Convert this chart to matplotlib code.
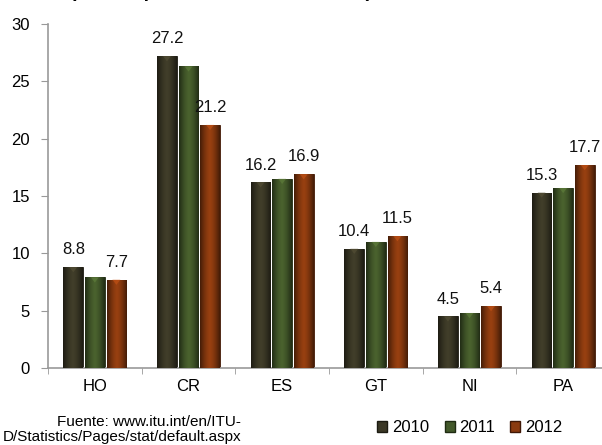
import numpy as np
import matplotlib
matplotlib.use("Agg")
import matplotlib.pyplot as plt
from matplotlib.patches import Patch

plt.rcParams['font.family'] = ['Liberation Sans', 'DejaVu Sans']

# data
paises = ['HO', 'CR', 'ES', 'GT', 'NI', 'PA']
anios = ['2010', '2011', '2012']
v2010 = [8.8, 27.2, 16.2, 10.4, 4.5, 15.3]
v2011 = [7.9, 26.3, 16.5, 11.0, 4.8, 15.7]
v2012 = [7.7, 21.2, 16.9, 11.5, 5.4, 17.7]
etiquetar = [True, False, True]   # only 2010 and 2012 have value labels

colores = ['#3b3826', '#43592a', '#8a3a0f']
bordes = ['#1c1b12', '#1f2b12', '#3f1806']


def shade(c, f):
    rgb = np.array(matplotlib.colors.to_rgb(c))
    return np.clip(rgb * f, 0, 1)


fig = plt.figure(figsize=(6.02, 4.45), dpi=100)
W, H = 602, 445
ax = fig.add_axes([48 / W, (H - 368) / H, (610 - 48) / W, (368 - 24) / H])

x = np.arange(len(paises))
ancho = 0.21
series = [v2010, v2011, v2012]
for i, vals in enumerate(series):
    pos = x + (i - 1) * (ancho + 0.02)
    bars = ax.bar(pos, vals, width=ancho, color=colores[i],
                  edgecolor=bordes[i], linewidth=0.6, zorder=2)
    # horizontal gradient to mimic the bevelled look
    grad = np.linspace(-1, 1, 40)
    f = 1.1 - 0.6 * np.abs(grad) ** 1.5
    img = np.array([[shade(colores[i], k) for k in f]])
    for b in bars:
        x0, w, h = b.get_x(), b.get_width(), b.get_height()
        im = ax.imshow(img, extent=[x0, x0 + w, 0, h], aspect='auto',
                       zorder=3, interpolation='bilinear')
        im.set_clip_path(b)
        # small triangle at the top of the bar
        ax.fill([x0 + w * 0.3, x0 + w * 0.7, x0 + w * 0.5],
                [h, h, h - 0.45], color=shade(colores[i], 1.45),
                alpha=0.6, zorder=4, lw=0)
    if etiquetar[i]:
        for b, v in zip(bars, vals):
            ax.annotate(f'{v:.1f}', (b.get_x() + b.get_width() / 2, v),
                        xytext=(0, 7), textcoords='offset points',
                        ha='center', va='bottom', fontsize=12, color='#111111')

ax.set_xlim(-0.5, len(paises) - 0.5)
ax.set_ylim(0, 30)
ax.set_yticks(np.arange(0, 31, 5))
ax.set_xticks(x)
ax.set_xticklabels(paises, fontsize=12)
ax.set_xticks(np.arange(len(paises)) - 0.5, minor=True)
ax.tick_params(axis='x', which='major', length=0, pad=8)
ax.tick_params(axis='x', which='minor', length=4, color='#999999', direction='out')
ax.tick_params(axis='y', labelsize=12, length=5, color='#999999', pad=8)
for s in ['top', 'right']:
    ax.spines[s].set_visible(False)
for s in ['left', 'bottom']:
    ax.spines[s].set_color('#999999')
    ax.spines[s].set_linewidth(1.2)

# title is mostly cropped off the top edge in the reference
fig.text(221 / W, 1 + 3 / H, '(Líneas por cada 100 habitantes)',
         ha='center', va='baseline', fontsize=14, fontweight='bold')

fig.text(241 / W, 1 / H, 'Fuente: www.itu.int/en/ITU-\nD/Statistics/Pages/stat/default.aspx',
         ha='right', va='bottom', multialignment='right', fontsize=11,
         linespacing=1.1)

handles = [Patch(facecolor=colores[i], edgecolor=bordes[i], label=anios[i]) for i in range(3)]
fig.legend(handles=handles, loc='center', bbox_to_anchor=(470 / W, 1 - 428 / H),
           ncol=3, frameon=False, fontsize=12, handlelength=0.6, handleheight=0.6,
           handletextpad=0.3, columnspacing=0.9)

fig.savefig('out.png', dpi=100)
